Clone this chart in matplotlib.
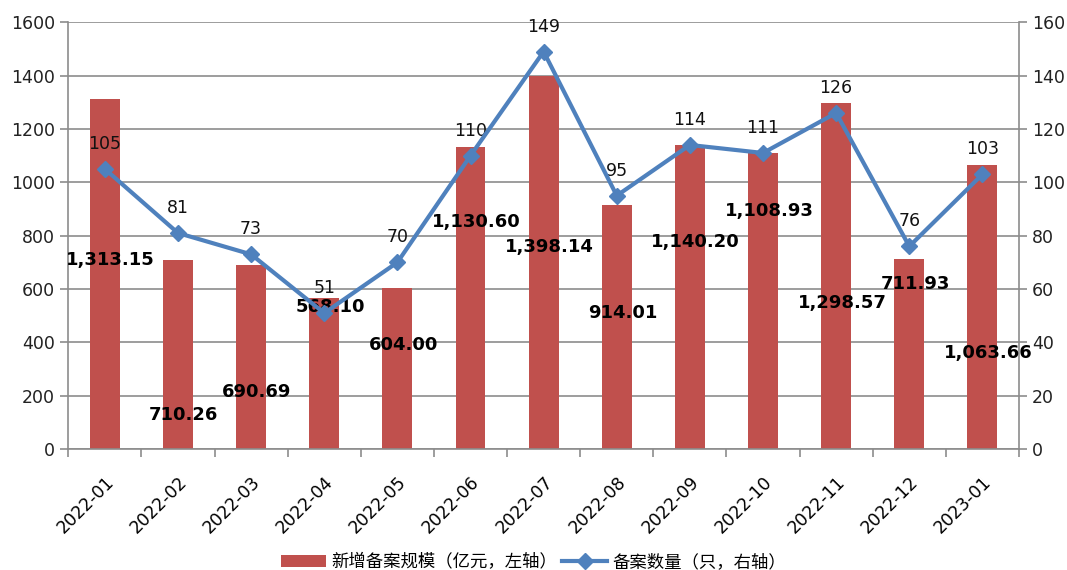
import matplotlib.pyplot as plt
import numpy as np

months = ["2022-01", "2022-02", "2022-03", "2022-04", "2022-05", "2022-06", "2022-07",
          "2022-08", "2022-09", "2022-10", "2022-11", "2022-12", "2023-01"]
scale = [1313.15, 710.26, 690.69, 568.10, 604.00, 1130.60, 1398.14,
         914.01, 1140.20, 1108.93, 1298.57, 711.93, 1063.66]
count = [105, 81, 73, 51, 70, 110, 149, 95, 114, 111, 126, 76, 103]

# where the bold bar labels sit (left-axis units), as in the original
label_y = [708, 127, 213, 532, 390, 850, 757, 510, 776, 892, 547, 618, 360]

plt.rcParams['font.family'] = ['DejaVu Sans', 'Noto Sans CJK SC']
GRID = "#8c8c8c"
FS = 12.5

fig = plt.figure(figsize=(10.67, 5.70), dpi=100)
ax = fig.add_axes([0.064, 0.212, 0.891, 0.749])
x = np.arange(len(months))

bars = ax.bar(x, scale, width=0.41, color="#C0504D", zorder=2)
for xi, v, ly in zip(x, scale, label_y):
    ax.text(xi + 0.08, ly, f"{v:,.2f}", ha="center", va="center",
            fontsize=13, fontweight="bold", color="black", zorder=5)

ax.set_ylim(0, 1600)
ax.set_yticks(range(0, 1601, 200))
ax.set_xlim(-0.5, len(months) - 0.5)
ax.yaxis.grid(True, color=GRID, linewidth=1.2, zorder=0)
ax.set_axisbelow(True)
ax.set_xticks(np.arange(-0.5, len(months), 1.0), minor=False)
ax.set_xticklabels([])
ax.set_xticks(x, minor=True)
ax.set_xticklabels(months, minor=True, rotation=45, ha="right",
                   rotation_mode="anchor", fontsize=FS)
ax.tick_params(axis="x", which="major", length=6, color=GRID, width=1.2)
ax.tick_params(axis="x", which="minor", length=0, pad=17)
ax.tick_params(axis="y", length=6, color=GRID, width=1.2, labelsize=FS, colors="#222222")
for s in ["left", "bottom", "right"]:
    ax.spines[s].set_color(GRID)
    ax.spines[s].set_linewidth(1.2)
ax.spines["top"].set_visible(False)

ax2 = ax.twinx()
line, = ax2.plot(x, count, color="#4F81BD", linewidth=3, marker="D", markersize=8,
                 zorder=4)
for xi, c in zip(x, count):
    ax2.text(xi, c + 6, str(c), ha="center", va="bottom", fontsize=FS, color="#111111")
ax2.set_ylim(0, 160)
ax2.set_yticks(range(0, 161, 20))
ax2.tick_params(axis="y", length=6, color=GRID, width=1.2, labelsize=FS, colors="#222222")
for s in ["left", "bottom", "right", "top"]:
    ax2.spines[s].set_visible(False)

fig.legend([bars, line], ["新增备案规模（亿元，左轴）", "备案数量（只，右轴）"],
           loc="lower center", bbox_to_anchor=(0.5, -0.03), ncol=2, frameon=False,
           prop={"family": ["Noto Sans CJK SC", "DejaVu Sans"], "size": 12.5},
           handlelength=2.6, columnspacing=0.3, handletextpad=0.3)

fig.savefig("out.png", dpi=100)
